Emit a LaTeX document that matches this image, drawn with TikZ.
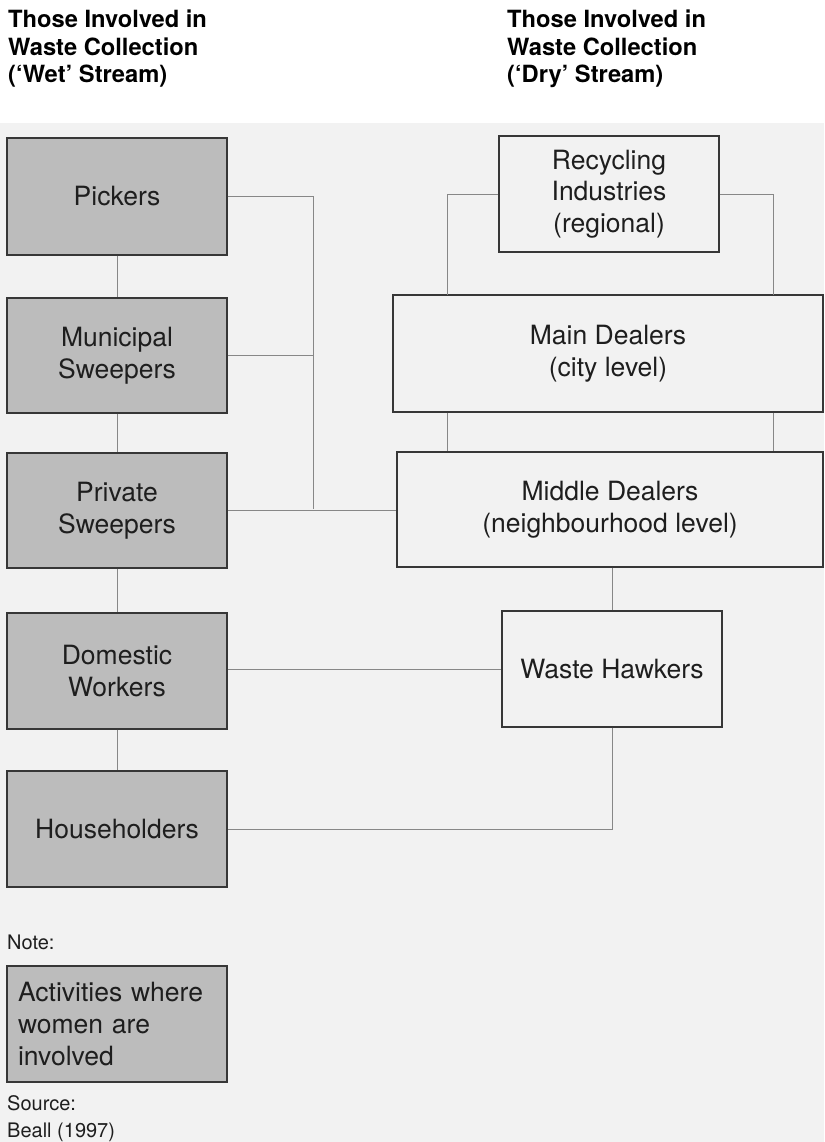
\documentclass[tikz,border=0pt]{standalone}
\usepackage{fontspec}
\setmainfont{TeX Gyre Heros}
\definecolor{boxgray}{RGB}{188,188,188}
\definecolor{paper}{RGB}{242,242,242}
\definecolor{edge}{RGB}{55,55,55}
\definecolor{conn}{RGB}{135,135,135}
\definecolor{txt}{RGB}{30,30,30}
\begin{document}
\begin{tikzpicture}[x=1pt,y=-1pt,
  wbox/.style={draw=edge,line width=1.4pt,fill=paper,text=txt,align=center,inner sep=0pt,
    font=\fontsize{26.5}{31.5}\selectfont},
  gbox/.style={wbox,fill=boxgray},
  link/.style={draw=conn,line width=0.9pt},
  head/.style={anchor=north west,align=left,inner sep=0pt,text=black,
    font=\bfseries\fontsize{23.7}{27.5}\selectfont},
  smalltxt/.style={inner sep=0pt,text=txt,align=left,font=\fontsize{20}{27}\selectfont}]
\useasboundingbox (0,0) rectangle (824,1142);
\fill[white] (0,0) rectangle (824,123);
\fill[paper] (0,123) rectangle (824,1142);

% headers
\node[head] (hl) at (8,10) {Those Involved in\\Waste Collection\\(‘Wet’ Stream)};
\node[head] (hr) at (507,10) {Those Involved in\\Waste Collection\\(‘Dry’ Stream)};

% wet stream
\node[gbox,minimum width=220,minimum height=117] (pick) at (117,196.5) {Pickers};
\node[gbox,minimum width=220,minimum height=115] (muni) at (117,355.5) {Municipal\\Sweepers};
\node[gbox,minimum width=220,minimum height=115] (priv) at (117,510.5) {Private\\Sweepers};
\node[gbox,minimum width=220,minimum height=116] (dom) at (117,671) {Domestic\\Workers};
\node[gbox,minimum width=220,minimum height=116] (hh) at (117,829) {Householders};

% dry stream
\node[wbox,minimum width=220,minimum height=116] (rec) at (609,194) {Recycling\\Industries\\(regional)};
\node[wbox,minimum width=430,minimum height=117] (main) at (608,353.5) {Main Dealers\\(city level)};
\node[wbox,minimum width=426,minimum height=115] (mid) at (610,509.5) {Middle Dealers\\(neighbourhood level)};
\node[wbox,minimum width=220,minimum height=116] (haw) at (612,669) {Waste Hawkers};

% legend
\node[smalltxt,anchor=base west] (note) at (7,949) {Note:};
\node[gbox,minimum width=220,minimum height=116,text width=198,align=left,
  font=\fontsize{26.5}{32}\selectfont] (leg) at (117,1024) {Activities where\\women are\\involved};
\node[smalltxt,anchor=north west] (src) at (7,1095) {Source:\\Beall (1997)};

% junction coordinates
\coordinate (jl) at (313,509);
\coordinate (mtl) at (447,295);
\coordinate (mtr) at (773,295);

% wet stream links
\draw[link] (pick.south) -- (muni.north);
\draw[link] (muni.south) -- (priv.north);
\draw[link] (priv.south) -- (dom.north);
\draw[link] (dom.south) -- (hh.north);
\draw[link] (pick.east) -| (jl);
\draw[link] (muni.east) -- (muni.east -| jl);
\draw[link] (priv.east) -- (priv.east -| mid.west);

% dry stream links
\draw[link] (rec.west) -| (mtl);
\draw[link] (rec.east) -| (mtr);
\draw[link] (main.south -| mtl) -- (mid.north -| mtl);
\draw[link] (main.south -| mtr) -- (mid.north -| mtr);
\draw[link] (haw.north |- mid.south) -- (haw.north);
\draw[link] (dom.east |- haw.west) -- (haw.west);
\draw[link] (haw.south) |- (hh.east);
\end{tikzpicture}
\end{document}
